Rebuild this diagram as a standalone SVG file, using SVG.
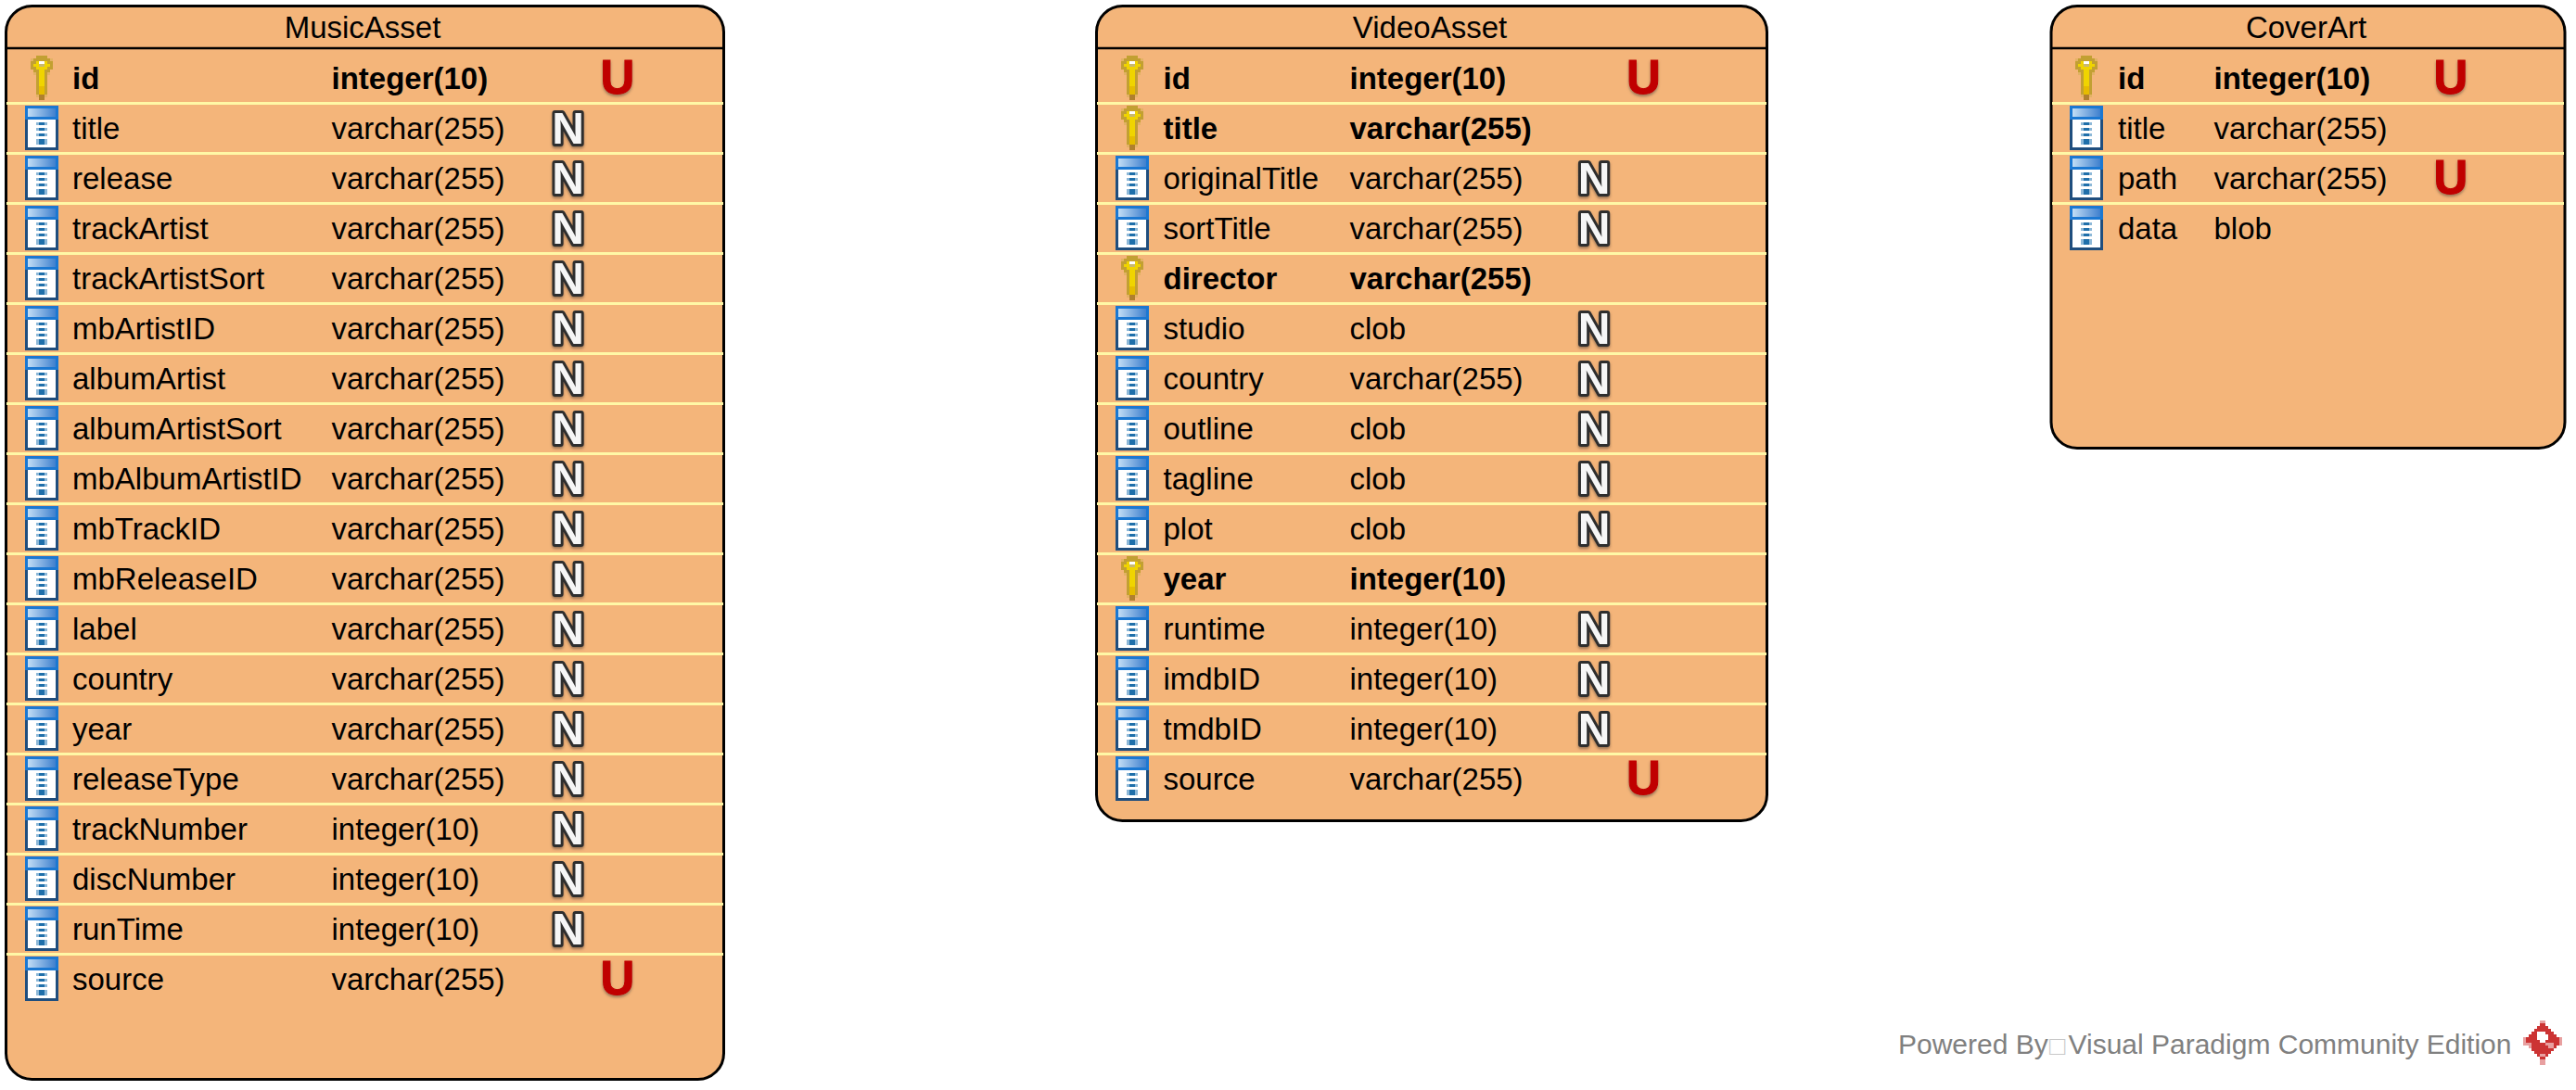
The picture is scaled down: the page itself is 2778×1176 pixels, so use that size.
<svg xmlns="http://www.w3.org/2000/svg" width="2778" height="1176" viewBox="0 0 2778 1176">
<style>
text{font-family:"Liberation Sans",Arial,sans-serif;font-size:33px;fill:#000}
.box{fill:#F4B57A;stroke:#000;stroke-width:3}
.hd{stroke:#000;stroke-width:2.5}
.sep{stroke:#FFF8A6;stroke-width:3}
.t{text-anchor:middle}
.b{font-weight:bold}
.u{font-weight:bold;font-size:51px;fill:#C00000;stroke:#C00000;stroke-width:1;text-anchor:middle;filter:url(#sh)}
.n{font-weight:bold;font-size:48px;fill:#F6F6F6;stroke:#2E2E2E;stroke-width:6;stroke-linejoin:round;paint-order:stroke;text-anchor:middle;filter:url(#sh)}
.wm{font-size:30px;fill:#808080}
</style>
<defs>
<filter id="sh" x="-30%" y="-30%" width="160%" height="170%"><feDropShadow dx="0" dy="2" stdDeviation="1.5" flood-color="#5a4a3a" flood-opacity=".6"/></filter>
<linearGradient id="band"><stop offset="0" stop-color="#C2DDF5"/><stop offset="1" stop-color="#3F80CE"/></linearGradient>
<g id="tbl" transform="scale(3)" shape-rendering="crispEdges">
<path fill="#1B78D2" d="M0 0h12v5h-12z"/>
<rect x="1" y="1" width="10" height="3" fill="url(#band)"/>
<path fill="#1F4E7E" d="M0 5h12v11h-12z"/>
<rect x="1" y="5" width="10" height="10" fill="#fff"/>
<path fill="#8DB8D8" d="M4 6h4v1h-4zM4 8h4v1h-4zM4 10h4v1h-4zM4 12h4v2h-4z"/>
<path fill="#1F6FAA" d="M5 6h2v1h-2zM5 8h2v1h-2zM5 10h2v1h-2zM5 12h2v2h-2z"/>
</g>
<g id="key" transform="scale(3)" shape-rendering="crispEdges">
<path fill="#E3B265" d="M2 0h4v1h-4zM0 1h1v1h-1zM7 1h1v1h-1zM1 6h1v1h-1zM6 6h1v1h-1zM2 14h4v1h-4z"/>
<path fill="#C2A032" d="M2 0h4v1h-4zM1 1h6v5h-6zM0 2h8v3h-8zM2 5h4v9h-4z"/>
<path fill="#F0D400" d="M2 2h4v3h-4zM1 3h6v1h-6zM3 5h2v6h-2z"/>
<path fill="#E6BC00" d="M3 11h2v3h-2z"/>
<rect x="3" y="2" width="2" height="1" fill="#fff"/>
<rect x="3" y="3" width="2" height="1" fill="#C9B870"/>
<path fill="#B0802E" d="M3 14h2v2h-2z"/>
</g>
</defs>
<g id="connectors"/>
<g id="MusicAsset">
<rect class="box" x="6.5" y="6.5" width="774" height="1158" rx="28"/>
<line class="hd" x1="7" y1="52" x2="780" y2="52"/>
<path class="sep" d="M7 111.5H780M7 165.5H780M7 219.5H780M7 273.5H780M7 327.5H780M7 381.5H780M7 435.5H780M7 489.5H780M7 543.5H780M7 597.5H780M7 651.5H780M7 705.5H780M7 759.5H780M7 813.5H780M7 867.5H780M7 921.5H780M7 975.5H780M7 1029.5H780"/>
<text class="t" x="391" y="41">MusicAsset</text>
<use href="#key" x="33" y="60"/><use href="#tbl" x="27" y="114"/><use href="#tbl" x="27" y="168"/><use href="#tbl" x="27" y="222"/><use href="#tbl" x="27" y="276"/><use href="#tbl" x="27" y="330"/><use href="#tbl" x="27" y="384"/><use href="#tbl" x="27" y="438"/><use href="#tbl" x="27" y="492"/><use href="#tbl" x="27" y="546"/><use href="#tbl" x="27" y="600"/><use href="#tbl" x="27" y="654"/><use href="#tbl" x="27" y="708"/><use href="#tbl" x="27" y="762"/><use href="#tbl" x="27" y="816"/><use href="#tbl" x="27" y="870"/><use href="#tbl" x="27" y="924"/><use href="#tbl" x="27" y="978"/><use href="#tbl" x="27" y="1032"/>
<text class="b" x="78" y="96">id</text><text class="b" x="357.5" y="96">integer(10)</text>
<text x="78" y="150">title</text><text x="357.5" y="150">varchar(255)</text>
<text x="78" y="204">release</text><text x="357.5" y="204">varchar(255)</text>
<text x="78" y="258">trackArtist</text><text x="357.5" y="258">varchar(255)</text>
<text x="78" y="312">trackArtistSort</text><text x="357.5" y="312">varchar(255)</text>
<text x="78" y="366">mbArtistID</text><text x="357.5" y="366">varchar(255)</text>
<text x="78" y="420">albumArtist</text><text x="357.5" y="420">varchar(255)</text>
<text x="78" y="474">albumArtistSort</text><text x="357.5" y="474">varchar(255)</text>
<text x="78" y="528">mbAlbumArtistID</text><text x="357.5" y="528">varchar(255)</text>
<text x="78" y="582">mbTrackID</text><text x="357.5" y="582">varchar(255)</text>
<text x="78" y="636">mbReleaseID</text><text x="357.5" y="636">varchar(255)</text>
<text x="78" y="690">label</text><text x="357.5" y="690">varchar(255)</text>
<text x="78" y="744">country</text><text x="357.5" y="744">varchar(255)</text>
<text x="78" y="798">year</text><text x="357.5" y="798">varchar(255)</text>
<text x="78" y="852">releaseType</text><text x="357.5" y="852">varchar(255)</text>
<text x="78" y="906">trackNumber</text><text x="357.5" y="906">integer(10)</text>
<text x="78" y="960">discNumber</text><text x="357.5" y="960">integer(10)</text>
<text x="78" y="1014">runTime</text><text x="357.5" y="1014">integer(10)</text>
<text x="78" y="1068">source</text><text x="357.5" y="1068">varchar(255)</text>
<text class="u" x="666" y="101">U</text>
<text class="n" x="612.5" y="155">N</text><text class="n" x="612.5" y="209">N</text><text class="n" x="612.5" y="263">N</text><text class="n" x="612.5" y="317">N</text><text class="n" x="612.5" y="371">N</text><text class="n" x="612.5" y="425">N</text><text class="n" x="612.5" y="479">N</text><text class="n" x="612.5" y="533">N</text><text class="n" x="612.5" y="587">N</text><text class="n" x="612.5" y="641">N</text><text class="n" x="612.5" y="695">N</text><text class="n" x="612.5" y="749">N</text><text class="n" x="612.5" y="803">N</text><text class="n" x="612.5" y="857">N</text><text class="n" x="612.5" y="911">N</text><text class="n" x="612.5" y="965">N</text><text class="n" x="612.5" y="1019">N</text>
<text class="u" x="666" y="1073">U</text>
</g>
<g id="VideoAsset">
<rect class="box" x="1182.5" y="6.5" width="723" height="879" rx="28"/>
<line class="hd" x1="1183" y1="52" x2="1905" y2="52"/>
<path class="sep" d="M1183 111.5H1905M1183 165.5H1905M1183 219.5H1905M1183 273.5H1905M1183 327.5H1905M1183 381.5H1905M1183 435.5H1905M1183 489.5H1905M1183 543.5H1905M1183 597.5H1905M1183 651.5H1905M1183 705.5H1905M1183 759.5H1905M1183 813.5H1905"/>
<text class="t" x="1542" y="41">VideoAsset</text>
<use href="#key" x="1209" y="60"/><use href="#key" x="1209" y="114"/><use href="#tbl" x="1203" y="168"/><use href="#tbl" x="1203" y="222"/><use href="#key" x="1209" y="276"/><use href="#tbl" x="1203" y="330"/><use href="#tbl" x="1203" y="384"/><use href="#tbl" x="1203" y="438"/><use href="#tbl" x="1203" y="492"/><use href="#tbl" x="1203" y="546"/><use href="#key" x="1209" y="600"/><use href="#tbl" x="1203" y="654"/><use href="#tbl" x="1203" y="708"/><use href="#tbl" x="1203" y="762"/><use href="#tbl" x="1203" y="816"/>
<text class="b" x="1254.5" y="96">id</text><text class="b" x="1455.5" y="96">integer(10)</text>
<text class="b" x="1254.5" y="150">title</text><text class="b" x="1455.5" y="150">varchar(255)</text>
<text x="1254.5" y="204">originalTitle</text><text x="1455.5" y="204">varchar(255)</text>
<text x="1254.5" y="258">sortTitle</text><text x="1455.5" y="258">varchar(255)</text>
<text class="b" x="1254.5" y="312">director</text><text class="b" x="1455.5" y="312">varchar(255)</text>
<text x="1254.5" y="366">studio</text><text x="1455.5" y="366">clob</text>
<text x="1254.5" y="420">country</text><text x="1455.5" y="420">varchar(255)</text>
<text x="1254.5" y="474">outline</text><text x="1455.5" y="474">clob</text>
<text x="1254.5" y="528">tagline</text><text x="1455.5" y="528">clob</text>
<text x="1254.5" y="582">plot</text><text x="1455.5" y="582">clob</text>
<text class="b" x="1254.5" y="636">year</text><text class="b" x="1455.5" y="636">integer(10)</text>
<text x="1254.5" y="690">runtime</text><text x="1455.5" y="690">integer(10)</text>
<text x="1254.5" y="744">imdbID</text><text x="1455.5" y="744">integer(10)</text>
<text x="1254.5" y="798">tmdbID</text><text x="1455.5" y="798">integer(10)</text>
<text x="1254.5" y="852">source</text><text x="1455.5" y="852">varchar(255)</text>
<text class="u" x="1772.5" y="101">U</text>
<text class="n" x="1719" y="209">N</text><text class="n" x="1719" y="263">N</text><text class="n" x="1719" y="371">N</text><text class="n" x="1719" y="425">N</text><text class="n" x="1719" y="479">N</text><text class="n" x="1719" y="533">N</text><text class="n" x="1719" y="587">N</text><text class="n" x="1719" y="695">N</text><text class="n" x="1719" y="749">N</text><text class="n" x="1719" y="803">N</text>
<text class="u" x="1772.5" y="857">U</text>
</g>
<g id="CoverArt">
<rect class="box" x="2212" y="6.5" width="554" height="477" rx="28"/>
<line class="hd" x1="2213" y1="52" x2="2765" y2="52"/>
<path class="sep" d="M2213 111.5H2765M2213 165.5H2765M2213 219.5H2765"/>
<text class="t" x="2487" y="41">CoverArt</text>
<use href="#key" x="2238" y="60"/><use href="#tbl" x="2232" y="114"/><use href="#tbl" x="2232" y="168"/><use href="#tbl" x="2232" y="222"/>
<text class="b" x="2284" y="96">id</text><text class="b" x="2387.5" y="96">integer(10)</text>
<text x="2284" y="150">title</text><text x="2387.5" y="150">varchar(255)</text>
<text x="2284" y="204">path</text><text x="2387.5" y="204">varchar(255)</text>
<text x="2284" y="258">data</text><text x="2387.5" y="258">blob</text>
<text class="u" x="2643" y="101">U</text><text class="u" x="2643" y="209">U</text>
</g>
<g id="watermark">
<text class="wm" x="2047" y="1137">Powered By<tspan x="2210" y="1138" font-size="29" fill="#C8C8C8">□</tspan><tspan x="2230.5" y="1137">Visual Paradigm Community Edition</tspan></text>
<g shape-rendering="crispEdges" transform="translate(2721 1101) scale(3)">
<path fill="#E8A0A0" d="M6 0h2v1h-2zM6 14h2v2h-2zM0 6h1v3h-1zM13 6h1v3h-1z"/>
<path fill="#CC3333" d="M6 1h2v1h-2zM5 2h4v1h-4zM4 3h6v1h-6zM3 4h8v1h-8zM2 5h10v1h-10zM1 6h12v3h-12zM2 9h10v1h-10zM3 10h8v1h-8zM4 11h6v1h-6zM5 12h4v1h-4zM6 13h2v1h-2z"/>
<path fill="#fff" d="M5 4h3v1h-3zM5 5h4v2h-4zM6 7h2v1h-2z"/>
<path fill="#E8A0A0" d="M8 8h3v1h-3zM9 9h2v1h-2zM1 8h2v1h-2zM2 9h1v1h-1zM6 12h2v1h-2z"/>
</g>
</g>
</svg>
